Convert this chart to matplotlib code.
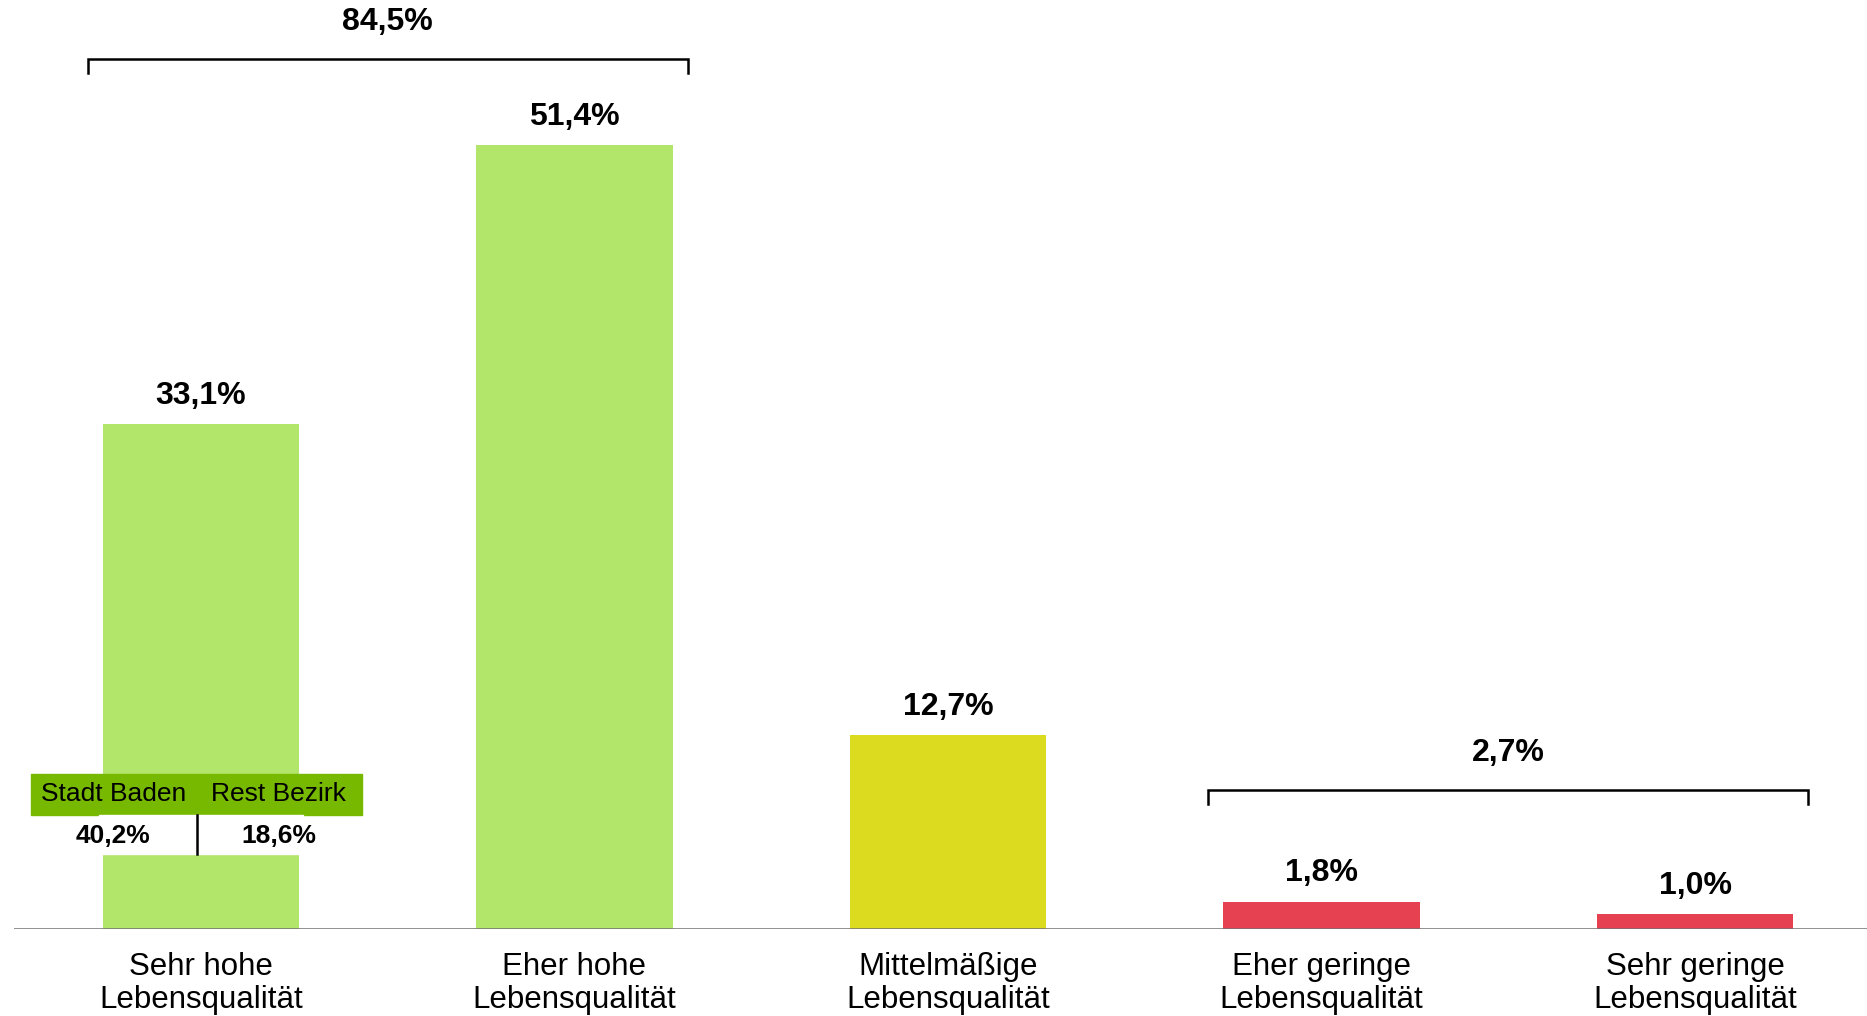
import matplotlib
matplotlib.use('Agg')
import matplotlib.pyplot as plt
from matplotlib.patches import Rectangle

categories = ['Sehr hohe\nLebensqualität', 'Eher hohe\nLebensqualität',
              'Mittelmäßige\nLebensqualität', 'Eher geringe\nLebensqualität',
              'Sehr geringe\nLebensqualität']
values = [33.1, 51.4, 12.7, 1.8, 1.0]
bar_colors = ['#b2e66a', '#b2e66a', '#dcdb20', '#e54150', '#e54150']

# summary brackets: (first bar, last bar, total)
groups = [(0, 1, 84.5), (3, 4, 2.7)]

# split of the first bar
split_names = ['Stadt Baden', 'Rest Bezirk']
split_values = [40.2, 18.6]


def pct(v):
    return f'{v:.1f}%'.replace('.', ',')


plt.rcParams['font.family'] = ['Liberation Sans', 'DejaVu Sans']

fig = plt.figure(figsize=(18.67, 10.16), dpi=100)
ax = fig.add_axes([14 / 1867, 0.0856, 1 - 14 / 1867, 1 - 0.0856])

width = 0.526
x = list(range(len(values)))
ax.bar(x, values, width=width, color=bar_colors, zorder=2)
ax.set_xlim(-0.5, 4.46)
ax.set_ylim(0, 60.94)
ax.axis('off')
ax.axhline(0, color='#707070', lw=1.8, zorder=3)

for xi, v in zip(x, values):
    ax.text(xi, v + 1.85, pct(v), ha='center', va='center', fontsize=23,
            fontweight='bold')

for xi, cat in zip(x, categories):
    ax.text(xi, -3.55, cat, ha='center', va='center', fontsize=22.5,
            linespacing=1.13, clip_on=False)

# brackets for the summed groups
bracket_y = [57.1, 9.14]
for (a, b, total), by in zip(groups, bracket_y):
    x0 = a - width / 2 - 0.04
    x1 = b + width / 2 + 0.04
    ax.plot([x0, x0, x1, x1], [by - 0.95, by, by, by - 0.95], color='black',
            lw=1.8, solid_joinstyle='miter', zorder=3)
    ax.text((a + b) / 2, by + 2.4, pct(total), ha='center', va='center',
            fontsize=23, fontweight='bold')

# inset for the split of the first bar
box_x0, box_x1 = -0.454, 0.432
ax.add_patch(Rectangle((box_x0, 7.5), box_x1 - box_x0, 2.66,
                       color='#76b900', zorder=4))
ax.add_patch(Rectangle((-width / 2 - 0.01, 4.92), width + 0.02, 2.58,
                       color='white', zorder=4))
ax.plot([-0.011, -0.011], [4.92, 7.5], color='black', lw=1.8, zorder=5)
for xs, name, v in zip([-0.234, 0.209], split_names, split_values):
    ax.text(xs, 8.83, name, ha='center', va='center', fontsize=19, zorder=5)
    ax.text(xs, 6.09, pct(v), ha='center', va='center', fontsize=19,
            fontweight='bold', zorder=5)

fig.savefig('out.png', dpi=100)
